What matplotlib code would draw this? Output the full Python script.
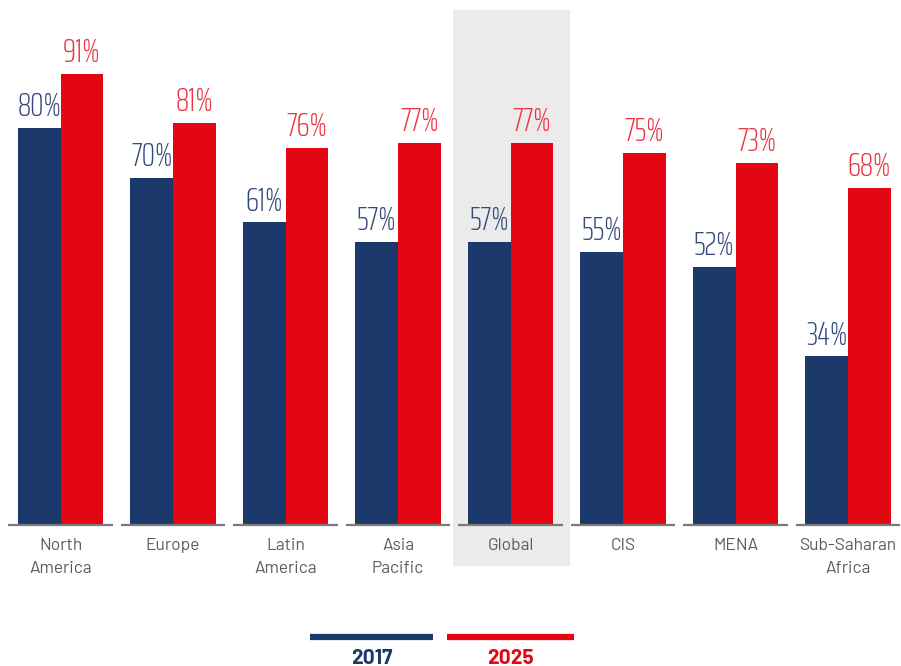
import numpy as np
import matplotlib
matplotlib.use("Agg")
import matplotlib.pyplot as plt
from matplotlib.lines import Line2D

# survey shares by region, 2017 vs 2025
regions = ["North\nAmerica", "Europe", "Latin\nAmerica", "Asia\nPacific",
           "Global", "CIS", "MENA", "Sub-Saharan\nAfrica"]
share_2017 = [80, 70, 61, 57, 57, 55, 52, 34]
share_2025 = [91, 81, 76, 77, 77, 75, 73, 68]
years = ["2017", "2025"]

BLUE = "#1b3a6b"
RED = "#e30613"
BLUE_TXT = "#34497a"
RED_TXT = "#ea3340"
GREY_TXT = "#5c5c5c"

VAL_FONT = dict(family="Saira ExtraCondensed", fontweight=275, fontsize=24)
CAT_FONT = dict(family="Barlow", fontsize=12.5, color=GREY_TXT)

fig = plt.figure(figsize=(9.01, 6.66), dpi=100)
ax = fig.add_axes([0, 141 / 666, 1, 515 / 666])
ax.set_xlim(-60.5 / 112.5, 840.5 / 112.5)
ax.set_ylim(0, 515 / 4.96)
ax.axis("off")

x = np.arange(len(regions))
w = 0.38

# highlight the global column
span = ax.axvspan(3.49, 4.53, ymin=-0.08, ymax=1.0, color="#ebebeb",
                  zorder=0, lw=0)
span.set_clip_on(False)

ax.bar(x - w / 2, share_2017, w, color=BLUE, zorder=2)
ax.bar(x + w / 2, share_2025, w, color=RED, zorder=2)

for xi, v in zip(x, share_2017):
    ax.annotate(f"{v}%", (xi - w / 2, v), xytext=(0, 8.5), textcoords="offset points",
                ha="center", va="baseline", color=BLUE_TXT, **VAL_FONT)
for xi, v in zip(x, share_2025):
    ax.annotate(f"{v}%", (xi + w / 2, v), xytext=(0, 8.5), textcoords="offset points",
                ha="center", va="baseline", color=RED_TXT, **VAL_FONT)

# short baseline under each group
ax.hlines([0] * len(x), x - 0.465, x + 0.465, color="#7a7a7a", lw=1.6,
          zorder=3, clip_on=False)

for xi, name in zip(x, regions):
    ax.annotate(name, (xi, 0), xytext=(0, -9.5), textcoords="offset points",
                ha="center", va="top", linespacing=1.65, **CAT_FONT)

# legend drawn by hand below the chart
fig.add_artist(Line2D([310 / 901, 433 / 901], [1 - 637 / 666] * 2,
                      color=BLUE, lw=4.5, solid_capstyle="butt"))
fig.add_artist(Line2D([447 / 901, 574 / 901], [1 - 637 / 666] * 2,
                      color=RED, lw=4.5, solid_capstyle="butt"))
fig.text(372 / 901, 1 - 658 / 666, years[0], ha="center", va="center",
         fontsize=15, fontweight="bold", color=BLUE, family="Barlow")
fig.text(510 / 901, 1 - 658 / 666, years[1], ha="center", va="center",
         fontsize=15, fontweight="bold", color=RED, family="Barlow")

fig.savefig("out.png", dpi=100)
